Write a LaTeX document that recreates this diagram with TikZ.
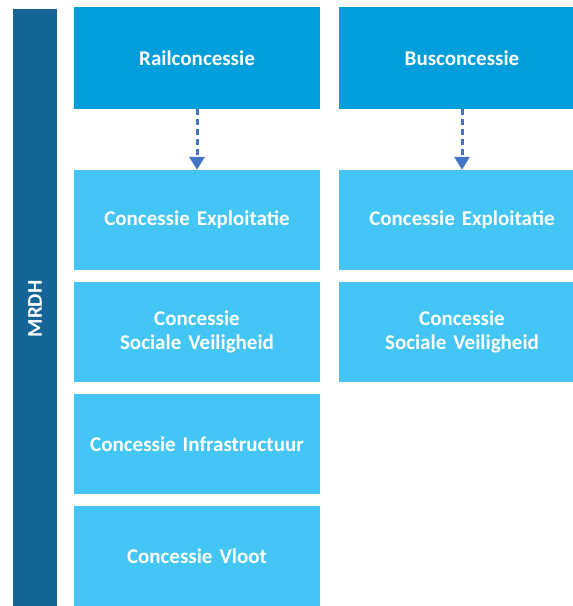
\documentclass[tikz,border=0pt]{standalone}
\usepackage{fontspec}
\setmainfont{Carlito}
\usetikzlibrary{shapes,arrows,arrows.meta}
\definecolor{mrdhblue}{RGB}{21,101,153}
\definecolor{topblue}{RGB}{0,158,219}
\definecolor{subblue}{RGB}{67,198,245}
\definecolor{arrowblue}{RGB}{68,114,196}
\tikzstyle{concessie} = [rectangle, minimum width=246pt, minimum height=102pt, text centered, fill=topblue, text=white, font=\bfseries\fontsize{21}{24}\selectfont, inner sep=0pt]
\tikzstyle{deel} = [rectangle, minimum width=246pt, minimum height=100pt, text width=240pt, align=center, fill=subblue, text=white, font=\bfseries\fontsize{21}{24}\selectfont, inner sep=0pt]
\tikzstyle{arrow} = [line width=3pt, -{Triangle[length=13pt,width=15pt]}, dash pattern=on 6pt off 4pt, arrowblue]

\begin{document}
\begin{tikzpicture} [x=1pt, y=1pt, node distance=112pt]
        \useasboundingbox (0,0) rectangle (573,-606);
        \clip (0,0) rectangle (573,-606);
        \node (mrdh) [rectangle, fill=mrdhblue, minimum width=44pt, minimum height=600pt, inner sep=0pt] at (35,-309) {};
        \node [rotate=90, text=white, font=\bfseries\fontsize{21}{24}\selectfont] at (mrdh.center) {MRDH};
        \node (rail) [concessie] at (197,-58) {Railconcessie};
        \node (bus) [concessie] at (462,-58) {Busconcessie};
        \node (rail1) [deel] at (197,-220) {Concessie Exploitatie};
        \node (rail2) [deel, below of = rail1] {Concessie\\Sociale Veiligheid};
        \node (rail3) [deel, below of = rail2] {Concessie Infrastructuur};
        \node (rail4) [deel, below of = rail3] {Concessie Vloot};
        \node (bus1) [deel] at (462,-220) {Concessie Exploitatie};
        \node (bus2) [deel, below of = bus1] {Concessie\\Sociale Veiligheid};
        \draw [arrow] (rail) -- (rail1);
        \draw [arrow] (bus) -- (bus1);
        \end{tikzpicture}
\end{document}
